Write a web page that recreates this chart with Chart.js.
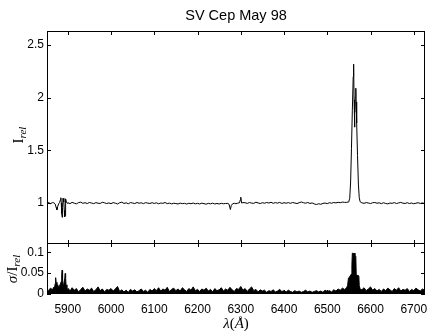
<!DOCTYPE html>
<html>
<head>
<meta charset="utf-8">
<title>SV Cep May 98</title>
<script src="https://cdn.jsdelivr.net/npm/chart.js@4.4.0/dist/chart.umd.min.js"></script>
<style>
  html, body { margin: 0; padding: 0; background: #fff; }
  #wrap { position: relative; width: 427px; height: 331px; overflow: hidden; }
  #fluxChart { position: absolute; left: 0; top: 0; width: 427px; height: 244px; }
  #errChart { position: absolute; left: 0; top: 243px; width: 427px; height: 88px; }
</style>
</head>
<body>
<div id="wrap">
  <canvas id="fluxChart" width="427" height="244"></canvas>
  <canvas id="errChart" width="427" height="88"></canvas>
</div>
<script>
// axis limits and ticks
const WAVE_MIN = 5852, WAVE_MAX = 6726;
const FLUX_MIN = 0.611, FLUX_MAX = 2.633;
const ERR_MIN = 0, ERR_MAX = 0.122;
const waveTicks = [5900, 6000, 6100, 6200, 6300, 6400, 6500, 6600, 6700];
const fluxTicks = [1, 1.5, 2, 2.5];
const errTicks = [0, 0.05, 0.1];

// continuum, read every 5 A outside the line regions
const contWave = [
  5850, 5855, 5860, 5865,
  5900, 5905, 5910, 5915, 5920, 5925, 5930, 5935, 5940, 5945,
  5950, 5955, 5960, 5965, 5970, 5975, 5980, 5985, 5990, 5995,
  6000, 6005, 6010, 6015, 6020, 6025, 6030, 6035, 6040, 6045,
  6050, 6055, 6060, 6065, 6070, 6075, 6080, 6085, 6090, 6095,
  6100, 6105, 6110, 6115, 6120, 6125, 6130, 6135, 6140, 6145,
  6150, 6155, 6160, 6165, 6170, 6175, 6180, 6185, 6190, 6195,
  6200, 6205, 6210, 6215, 6220, 6225, 6230, 6235, 6240, 6245,
  6250, 6255, 6260, 6265,
  6310, 6315, 6320, 6325, 6330, 6335, 6340, 6345, 6350, 6355,
  6360, 6365, 6370, 6375, 6380, 6385, 6390, 6395, 6400, 6405,
  6410, 6415, 6420, 6425, 6430, 6435, 6440, 6445, 6450, 6455,
  6460, 6465, 6470, 6475, 6480, 6485, 6490, 6495, 6500, 6505,
  6510, 6515, 6520, 6525, 6530, 6535, 6540,
  6585, 6590, 6595, 6600, 6605, 6610, 6615, 6620, 6625, 6630,
  6635, 6640, 6645, 6650, 6655, 6660, 6665, 6670, 6675, 6680,
  6685, 6690, 6695, 6700, 6705, 6710, 6715, 6720, 6725, 6730
];
const contFlux = [
  1.000, 1.006, 0.994, 1.004,
  1.003, 0.994, 1.006, 0.999, 0.992, 1.004, 1.008, 0.997, 1.003, 0.995,
  1.005, 1.000, 0.994, 1.004, 0.998, 0.996, 1.007, 1.002, 0.995, 1.001,
  0.994, 1.004, 0.999, 0.991, 1.003, 1.008, 0.996, 1.002, 0.993, 1.004,
  1.000, 0.995, 1.005, 0.998, 1.002, 0.994, 1.004, 0.999, 0.996, 1.003,
  0.996, 1.002, 0.993, 1.000, 0.997, 1.005, 0.994, 0.999, 0.992, 0.998,
  0.995, 0.991, 0.999, 0.994, 0.997, 0.990, 0.998, 0.993, 1.000, 0.992,
  0.997, 0.991, 0.999, 0.994, 0.989, 0.997, 0.992, 0.999, 0.991, 0.996,
  0.991, 0.997, 0.993, 0.996,
  1.003, 0.996, 1.005, 0.999, 0.997, 1.008, 1.001, 0.995, 1.003, 0.998,
  1.005, 1.000, 1.007, 0.997, 1.004, 0.999, 1.006, 0.996, 1.003, 0.998,
  1.004, 0.997, 1.005, 1.000, 0.995, 1.003, 1.010, 1.003, 0.998, 1.005,
  0.996, 1.001, 0.991, 0.986, 0.993, 0.988, 0.996, 1.000, 0.994, 1.003,
  0.998, 1.005, 1.001, 1.007, 1.003, 1.009, 1.006,
  0.997, 1.004, 1.000, 0.995, 1.003, 1.005, 0.998, 1.002, 0.994, 1.003,
  0.996, 0.992, 1.000, 0.997, 1.004, 0.995, 1.001, 1.006, 0.998, 0.996,
  1.003, 0.995, 1.000, 0.993, 0.998, 1.003, 0.996, 1.001, 0.995, 1.000
];

// Na D region
const naWave = [5868, 5871, 5873, 5875, 5877, 5879, 5881, 5883, 5884, 5885, 5886,
                5887, 5888, 5889, 5891, 5892, 5893, 5894, 5895, 5897, 5899];
const naFlux = [1.002, 0.990, 0.960, 0.935, 0.970, 0.992, 1.005, 1.030, 1.050, 1.000, 0.900,
                0.865, 0.960, 1.045, 1.010, 0.930, 0.870, 0.880, 1.040, 1.008, 0.997];

// [OI] 6300 region
const oiWave = [6270, 6273, 6276, 6278, 6281, 6285, 6289, 6293, 6297, 6299, 6300, 6302, 6305];
const oiFlux = [0.996, 0.988, 0.938, 0.975, 0.992, 0.998, 0.993, 0.999, 1.002, 1.030, 1.055, 1.000, 1.004];

// H-alpha emission
const haWave = [6545, 6548, 6550, 6552, 6554, 6556, 6558, 6560, 6561, 6562, 6563,
                6564, 6565, 6566, 6567, 6568, 6570, 6572, 6574, 6576, 6580];
const haFlux = [1.006, 1.010, 1.016, 1.045, 1.200, 1.520, 1.880, 2.200, 2.318, 1.980, 1.720,
                1.860, 2.010, 2.090, 1.960, 1.760, 1.450, 1.180, 1.050, 1.012, 1.002];

// sigma / I_rel, every 5 A outside the line regions
const errWave = [
  5850, 5855, 5860, 5865,
  5905, 5910, 5915, 5920, 5925, 5930, 5935, 5940, 5945, 5950,
  5955, 5960, 5965, 5970, 5975, 5980, 5985, 5990, 5995, 6000,
  6005, 6010, 6015, 6020, 6025, 6030, 6035, 6040, 6045, 6050,
  6055, 6060, 6065, 6070, 6075, 6080, 6085, 6090, 6095, 6100,
  6105, 6110, 6115, 6120, 6125, 6130, 6135, 6140, 6145, 6150,
  6155, 6160, 6165, 6170, 6175, 6180, 6185, 6190, 6195, 6200,
  6205, 6210, 6215, 6220, 6225, 6230, 6235, 6240, 6245, 6250,
  6255, 6260, 6265, 6270, 6275, 6280, 6285, 6290, 6295, 6300,
  6305, 6310, 6315, 6320, 6325, 6330, 6335, 6340, 6345, 6350,
  6355, 6360, 6365, 6370, 6375, 6380, 6385, 6390, 6395, 6400,
  6405, 6410, 6415, 6420, 6425, 6430, 6435, 6440, 6445, 6450,
  6455, 6460, 6465, 6470, 6475, 6480, 6485, 6490, 6495, 6500,
  6505, 6510, 6515, 6520, 6525, 6530, 6535, 6540,
  6580, 6585, 6590, 6595, 6600, 6605, 6610, 6615, 6620, 6625,
  6630, 6635, 6640, 6645, 6650, 6655, 6660, 6665, 6670, 6675,
  6680, 6685, 6690, 6695, 6700, 6705, 6710, 6715, 6720, 6725,
  6730
];
const errVal = [
  0.012, 0.008, 0.014, 0.010,
  0.006, 0.015, 0.009, 0.013, 0.005, 0.011, 0.016, 0.007, 0.012, 0.009,
  0.014, 0.006, 0.010, 0.017, 0.008, 0.012, 0.005, 0.011, 0.009, 0.013,
  0.007, 0.012, 0.018, 0.006, 0.010, 0.005, 0.009, 0.004, 0.011, 0.007,
  0.010, 0.005, 0.008, 0.012, 0.006, 0.009, 0.004, 0.011, 0.007, 0.013,
  0.008, 0.015, 0.007, 0.012, 0.009, 0.016, 0.006, 0.011, 0.014, 0.008,
  0.012, 0.007, 0.015, 0.010, 0.006, 0.013, 0.009, 0.017, 0.008, 0.011,
  0.006, 0.012, 0.009, 0.014, 0.007, 0.011, 0.005, 0.013, 0.008, 0.010,
  0.015, 0.007, 0.012, 0.009, 0.016, 0.010, 0.006, 0.013, 0.011, 0.018,
  0.009, 0.013, 0.006, 0.012, 0.017, 0.008, 0.011, 0.005, 0.010, 0.007,
  0.009, 0.004, 0.008, 0.006, 0.010, 0.005, 0.007, 0.011, 0.006, 0.008,
  0.005, 0.009, 0.006, 0.004, 0.008, 0.005, 0.007, 0.004, 0.006, 0.009,
  0.005, 0.007, 0.004, 0.006, 0.008, 0.005, 0.007, 0.004, 0.009, 0.006,
  0.008, 0.005, 0.010, 0.007, 0.012, 0.009, 0.014, 0.011,
  0.010, 0.015, 0.008, 0.012, 0.017, 0.009, 0.013, 0.007, 0.011, 0.006,
  0.012, 0.008, 0.014, 0.010, 0.006, 0.013, 0.009, 0.015, 0.007, 0.011,
  0.009, 0.013, 0.006, 0.011, 0.008, 0.014, 0.010, 0.007, 0.012, 0.009,
  0.011
];
const naErrWave = [5867, 5869, 5871, 5872, 5873, 5875, 5877, 5879, 5881, 5883, 5885, 5886,
                   5887, 5888, 5889, 5891, 5893, 5894, 5895, 5896, 5898, 5900, 5902];
const naErrVal = [0.016, 0.012, 0.025, 0.039, 0.028, 0.018, 0.022, 0.015, 0.020, 0.024, 0.030, 0.045,
                  0.057, 0.032, 0.022, 0.026, 0.036, 0.049, 0.040, 0.022, 0.015, 0.010, 0.013];
const haErrWave = [6542, 6545, 6547, 6549, 6551, 6553, 6555, 6557, 6558, 6560,
                   6562, 6564, 6566, 6567, 6569, 6571, 6573, 6574, 6576, 6578];
const haErrVal = [0.012, 0.016, 0.020, 0.038, 0.040, 0.043, 0.047, 0.070, 0.098, 0.096,
                  0.098, 0.093, 0.090, 0.046, 0.045, 0.044, 0.043, 0.020, 0.012, 0.009];

// join pieces into one sorted {x, y} list
function mergeSeries(parts) {
  const pts = [];
  parts.forEach(([w, v]) => w.forEach((x, i) => pts.push({ x, y: v[i] })));
  return pts.sort((a, b) => a.x - b.x);
}

const fluxPoints = mergeSeries([[contWave, contFlux], [naWave, naFlux], [oiWave, oiFlux], [haWave, haFlux]]);
const errPoints = mergeSeries([[errWave, errVal], [naErrWave, naErrVal], [haErrWave, haErrVal]]);

const SANS = '"Liberation Sans", Arial, Helvetica, sans-serif';
const SERIF = '"Liberation Serif", "Times New Roman", serif';

// draws text made of parts with different fonts, centred on (cx, cy)
function drawParts(ctx, parts, cx, cy, rotate) {
  ctx.save();
  ctx.translate(cx, cy);
  if (rotate) ctx.rotate(-Math.PI / 2);
  ctx.fillStyle = '#000';
  ctx.textBaseline = 'alphabetic';
  ctx.textAlign = 'left';
  let total = 0;
  parts.forEach(p => { ctx.font = p[1]; total += ctx.measureText(p[0]).width; });
  let pos = -total / 2;
  parts.forEach(p => {
    ctx.font = p[1];
    ctx.fillText(p[0], pos, p[2] || 0);
    pos += ctx.measureText(p[0]).width;
  });
  ctx.restore();
}

// box round the plot with inward ticks on all four sides, plus axis titles
const framePlugin = {
  id: 'frame',
  afterDraw(chart, args, opts) {
    const { ctx, chartArea: a, scales } = chart;
    const x = scales.x, y = scales.y;
    ctx.save();
    ctx.strokeStyle = '#000';
    ctx.lineWidth = 1;
    const L = Math.round(a.left), T = Math.round(a.top), R = Math.round(a.right), B = Math.round(a.bottom);
    ctx.strokeRect(L + 0.5, T + 0.5, R - L - 1, B - T - 1);
    const len = 4;
    ctx.beginPath();
    waveTicks.forEach(v => {
      const px = Math.round(x.getPixelForValue(v)) + 0.5;
      ctx.moveTo(px, T); ctx.lineTo(px, T + len);
      ctx.moveTo(px, B); ctx.lineTo(px, B - len);
    });
    opts.yTicks.forEach(v => {
      const py = Math.round(y.getPixelForValue(v)) + 0.5;
      ctx.moveTo(L, py); ctx.lineTo(L + len, py);
      ctx.moveTo(R, py); ctx.lineTo(R - len, py);
    });
    ctx.stroke();
    ctx.restore();
    if (opts.yTitle) drawParts(ctx, opts.yTitle.parts, opts.yTitle.x, opts.yTitle.y, true);
    if (opts.xTitle) drawParts(ctx, opts.xTitle.parts, opts.xTitle.x, opts.xTitle.y, false);
  }
};

function yAxis(min, max, ticks) {
  return {
    type: 'linear', min, max,
    afterBuildTicks: s => { s.ticks = ticks.map(v => ({ value: v })); },
    afterFit: s => { s.width = 47; s.paddingTop = 0; s.paddingBottom = 0; },
    grid: { display: false, drawTicks: false },
    border: { display: false },
    ticks: { color: '#000', font: { family: SANS, size: 12 }, padding: 3, callback: v => String(v) }
  };
}

new Chart(document.getElementById('fluxChart'), {
  type: 'line',
  data: {
    datasets: [{
      data: fluxPoints, borderColor: '#000', borderWidth: 1,
      pointRadius: 0, fill: false, tension: 0
    }]
  },
  options: {
    responsive: false, animation: false, events: [],
    layout: { padding: { left: 0, right: 2, top: 0, bottom: 0 } },
    scales: {
      x: { type: 'linear', min: WAVE_MIN, max: WAVE_MAX, display: false },
      y: yAxis(FLUX_MIN, FLUX_MAX, fluxTicks)
    },
    plugins: {
      legend: { display: false },
      tooltip: { enabled: false },
      title: {
        display: true, text: 'SV Cep May 98', fullSize: false, color: '#000',
        font: { family: SANS, size: 14.5, weight: 'normal' },
        padding: { top: 7, bottom: 6.6 }
      },
      frame: {
        yTicks: fluxTicks,
        yTitle: {
          x: 23, y: 135,
          parts: [['I', '15px ' + SERIF, 0], ['rel', 'italic 11px ' + SERIF, 3]]
        }
      }
    }
  },
  plugins: [framePlugin]
});

new Chart(document.getElementById('errChart'), {
  type: 'line',
  data: {
    datasets: [{
      data: errPoints, borderColor: '#000', backgroundColor: '#000', borderWidth: 1,
      pointRadius: 0, fill: 'origin', tension: 0
    }]
  },
  options: {
    responsive: false, animation: false, events: [],
    layout: { padding: { left: 0, right: 2, top: 0, bottom: 0 } },
    scales: {
      x: {
        type: 'linear', min: WAVE_MIN, max: WAVE_MAX,
        afterBuildTicks: s => { s.ticks = waveTicks.map(v => ({ value: v })); },
        afterFit: s => { s.height = 37; s.paddingLeft = 0; s.paddingRight = 0; },
        grid: { display: false, drawTicks: false },
        border: { display: false },
        ticks: {
          color: '#000', font: { family: SANS, size: 12 }, padding: 8,
          maxRotation: 0, autoSkip: false, callback: v => String(v)
        }
      },
      y: yAxis(ERR_MIN, ERR_MAX, errTicks)
    },
    plugins: {
      legend: { display: false },
      tooltip: { enabled: false },
      frame: {
        yTicks: errTicks,
        yTitle: {
          x: 17, y: 26,
          parts: [['σ', 'italic 15px ' + SERIF, 0], ['/', '15px ' + SERIF, 0],
                  ['I', '15px ' + SERIF, 0], ['rel', 'italic 11px ' + SERIF, 3]]
        },
        xTitle: {
          x: 236, y: 85,
          parts: [['λ', 'italic 15px ' + SERIF, 0], ['(', '15px ' + SERIF, 0],
                  ['Å', 'italic 15px ' + SERIF, 0], [')', '15px ' + SERIF, 0]]
        }
      }
    }
  },
  plugins: [framePlugin]
});
</script>
</body>
</html>
